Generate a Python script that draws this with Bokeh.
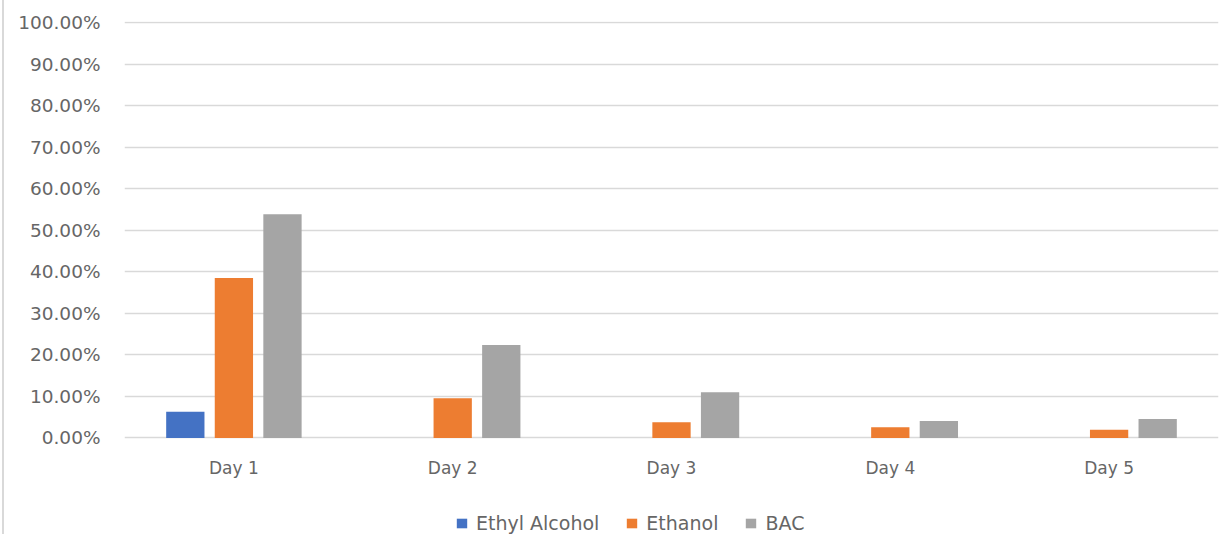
from bokeh.plotting import figure
from bokeh.models import (ColumnDataSource, FactorRange, Range1d, FixedTicker,
                          NumeralTickFormatter, Legend, LegendItem, Spacer)
from bokeh.layouts import row
from bokeh.core.properties import value
from bokeh.transform import dodge
from bokeh.embed import file_html
from bokeh.resources import INLINE

days = ["Day 1", "Day 2", "Day 3", "Day 4", "Day 5"]
ethyl_alcohol = [0.063, 0.0, 0.0, 0.0, 0.0]
ethanol = [0.385, 0.096, 0.038, 0.026, 0.020]
bac = [0.539, 0.224, 0.110, 0.041, 0.046]
y_ticks = [0.0, 0.1, 0.2, 0.3, 0.4, 0.5, 0.6, 0.7, 0.8, 0.9, 1.0]

src = ColumnDataSource(dict(days=days, ethyl=ethyl_alcohol, ethanol=ethanol, bac=bac))

FONT = "DejaVu Sans"
TXT = "#666666"

# frame runs from top 21px to the bottom of the page; value 0 sits at y~437px
p = figure(width=1217, height=534, x_range=FactorRange(*days), y_range=Range1d(-0.2324, 1.003),
           output_backend="svg", toolbar_location=None,
           min_border_left=120, min_border_right=3, min_border_top=21, min_border_bottom=0)
p.outline_line_color = None
p.background_fill_color = "white"
p.border_fill_color = "white"

w = 0.175
r1 = p.vbar(x=dodge("days", -0.222, range=p.x_range), top="ethyl", width=w, source=src,
            fill_color="#4472C4", line_color=None)
r2 = p.vbar(x=dodge("days", 0.0, range=p.x_range), top="ethanol", width=w, source=src,
            fill_color="#ED7D31", line_color=None)
r3 = p.vbar(x=dodge("days", 0.222, range=p.x_range), top="bac", width=w, source=src,
            fill_color="#A5A5A5", line_color=None)

# category labels under the baseline
p.text(x="days", y=-0.073, text="days", source=src, text_align="center",
       text_baseline="middle", text_font=value(FONT), text_font_size="17px",
       text_color=TXT)

p.xgrid.grid_line_color = None
p.ygrid.grid_line_color = "#D9D9D9"
p.ygrid.grid_line_width = 1.5
p.ygrid.ticker = FixedTicker(ticks=y_ticks)

p.xaxis.visible = False

p.yaxis.ticker = FixedTicker(ticks=y_ticks)
p.yaxis.formatter = NumeralTickFormatter(format="0.00%")
p.yaxis.axis_line_color = None
p.yaxis.major_tick_line_color = None
p.yaxis.minor_tick_line_color = None
p.yaxis.major_label_standoff = 18
p.yaxis.major_label_text_font = FONT
p.yaxis.major_label_text_font_size = "18.5px"
p.yaxis.major_label_text_color = TXT

legend = Legend(items=[LegendItem(label="Ethyl Alcohol", renderers=[r1]),
                       LegendItem(label="Ethanol", renderers=[r2]),
                       LegendItem(label="BAC", renderers=[r3])],
                orientation="horizontal", location=(331, 0))
legend.border_line_color = None
legend.background_fill_alpha = 0
legend.label_text_font = FONT
legend.label_text_font_size = "19px"
legend.label_text_color = TXT
legend.glyph_width = 13
legend.glyph_height = 12
legend.label_standoff = 8
legend.spacing = 26
legend.padding = 2
legend.margin = 0
p.add_layout(legend, "center")

edge = Spacer(width=2, height=534, styles={"background-color": "#D9D9D9"})
gap = Spacer(width=2, height=534)
layout = row(gap, edge, p)

open("out.html", "w").write(file_html(layout, INLINE))
